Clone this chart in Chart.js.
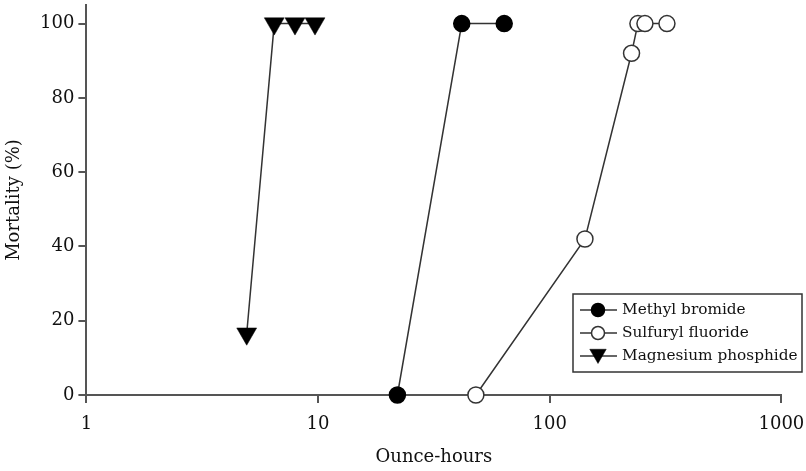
<!DOCTYPE html>
<html>
<head>
<meta charset="utf-8">
<script src="https://cdn.jsdelivr.net/npm/chart.js@4"></script>
<style>
  html, body { margin: 0; padding: 0; background: #fff; }
  #wrap { width: 806px; height: 471px; position: relative; }
</style>
</head>
<body>
<div id="wrap"><canvas id="c"></canvas></div>
<script>
// ---- Data ----
const seriesNames = ["Methyl bromide", "Sulfuryl fluoride", "Magnesium phosphide"];
const methylX = [22.0, 41.7, 63.6];
const methylY = [0, 100, 100];
const sulfurylX = [48.0, 141.9, 225.5, 240.2, 257.6, 320.6];
const sulfurylY = [0, 42, 92, 100, 100, 100];
const magnesiumX = [4.92, 6.47, 7.95, 9.70];
const magnesiumY = [16.5, 100, 100, 100];
const xTickValues = [1, 10, 100, 1000];
const yTickValues = [0, 20, 40, 60, 80, 100];
const xTitle = "Ounce-hours";
const yTitle = "Mortality (%)";

const FONT = "'DejaVu Serif', serif";
const pts = (xs, ys) => xs.map((x, i) => ({ x: x, y: ys[i] }));

const datasets = [
  {
    label: seriesNames[0], data: pts(methylX, methylY),
    showLine: true, borderColor: '#333', borderWidth: 1.5,
    pointStyle: 'circle', pointRadius: 8, pointHoverRadius: 8,
    pointBackgroundColor: '#000', pointBorderColor: '#000', pointBorderWidth: 1.5,
    clip: false
  },
  {
    label: seriesNames[1], data: pts(sulfurylX, sulfurylY),
    showLine: true, borderColor: '#333', borderWidth: 1.5,
    pointStyle: 'circle', pointRadius: 8, pointHoverRadius: 8,
    pointBackgroundColor: '#fff', pointBorderColor: '#333', pointBorderWidth: 1.5,
    clip: false
  },
  {
    label: seriesNames[2], data: pts(magnesiumX, magnesiumY),
    showLine: true, borderColor: '#333', borderWidth: 1.5,
    pointStyle: 'triangle', pointRotation: 180, pointRadius: 11.5, pointHoverRadius: 11.5,
    pointBackgroundColor: '#000', pointBorderColor: '#000', pointBorderWidth: 0.5,
    clip: false
  }
];

function marker(ctx, style, x, y, r, fill, stroke, lw) {
  ctx.save();
  ctx.beginPath();
  if (style === 'circle') {
    ctx.arc(x, y, r, 0, Math.PI * 2);
  } else {
    let rad = Math.PI;
    ctx.moveTo(x + Math.sin(rad) * r, y - Math.cos(rad) * r);
    rad += 2 * Math.PI / 3;
    ctx.lineTo(x + Math.sin(rad) * r, y - Math.cos(rad) * r);
    rad += 2 * Math.PI / 3;
    ctx.lineTo(x + Math.sin(rad) * r, y - Math.cos(rad) * r);
    ctx.closePath();
  }
  ctx.fillStyle = fill; ctx.fill();
  ctx.lineWidth = lw; ctx.strokeStyle = stroke; ctx.stroke();
  ctx.restore();
}

const boxLegend = {
  id: 'boxLegend',
  afterDraw(chart) {
    const ctx = chart.ctx;
    const left = 573, top = 294, right = 802, bottom = 372;
    ctx.save();
    ctx.fillStyle = '#fff';
    ctx.fillRect(left, top, right - left, bottom - top);
    ctx.lineWidth = 1.5;
    ctx.strokeStyle = '#333';
    ctx.strokeRect(left, top, right - left, bottom - top);
    const rows = [310, 333, 356];
    chart.data.datasets.forEach((ds, i) => {
      const y = rows[i];
      ctx.beginPath();
      ctx.moveTo(580, y); ctx.lineTo(617, y);
      ctx.lineWidth = 1.5; ctx.strokeStyle = '#333'; ctx.stroke();
      if (ds.pointStyle === 'circle') {
        marker(ctx, 'circle', 598, y, 6.5, ds.pointBackgroundColor, ds.pointBorderColor, 1.5);
      } else {
        marker(ctx, 'triangle', 598, y - 2, 9.5, ds.pointBackgroundColor, ds.pointBorderColor, 0.5);
      }
      ctx.fillStyle = '#111';
      ctx.font = "15.3px " + FONT;
      ctx.textBaseline = 'middle';
      ctx.textAlign = 'left';
      ctx.fillText(ds.label, 622, y);
    });
    ctx.restore();
  }
};

new Chart(document.getElementById('c'), {
  type: 'scatter',
  data: { datasets: datasets },
  plugins: [boxLegend],
  options: {
    responsive: true,
    maintainAspectRatio: false,
    animation: false,
    events: [],
    layout: { autoPadding: false, padding: { top: 5, right: 24.6, left: 0, bottom: 0 } },
    plugins: { legend: { display: false }, tooltip: { enabled: false } },
    scales: {
      x: {
        type: 'logarithmic', min: 1, max: 1000,
        afterFit: s => { s.height = 76; s.paddingLeft = 0; s.paddingRight = 0; s.paddingTop = 0; },
        afterBuildTicks: s => { s.ticks = xTickValues.map(v => ({ value: v })); },
        ticks: {
          autoSkip: false, maxRotation: 0, padding: 11, color: '#111',
          font: { family: FONT, size: 18 },
          callback: v => String(v)
        },
        grid: { display: true, drawOnChartArea: false, drawTicks: true, tickLength: 8, color: '#555', lineWidth: 2 },
        border: { display: true, color: '#555', width: 2 },
        title: { display: true, text: xTitle, color: '#111', font: { family: FONT, size: 18 }, padding: { top: 4, bottom: 3 } }
      },
      y: {
        type: 'linear', min: 0, max: 105,
        afterFit: s => { s.width = 86.4; s.paddingTop = 0; s.paddingBottom = 0; },
        afterBuildTicks: s => { s.ticks = yTickValues.map(v => ({ value: v })); },
        ticks: {
          autoSkip: false, padding: 4, color: '#111',
          font: { family: FONT, size: 18 },
          callback: v => String(v)
        },
        grid: { display: true, drawOnChartArea: false, drawTicks: true, tickLength: 8, color: '#555', lineWidth: 2 },
        border: { display: true, color: '#555', width: 2 },
        title: { display: true, text: yTitle, color: '#111', font: { family: FONT, size: 18 }, padding: { top: 4, bottom: 4 } }
      }
    }
  }
});
</script>
</body>
</html>
